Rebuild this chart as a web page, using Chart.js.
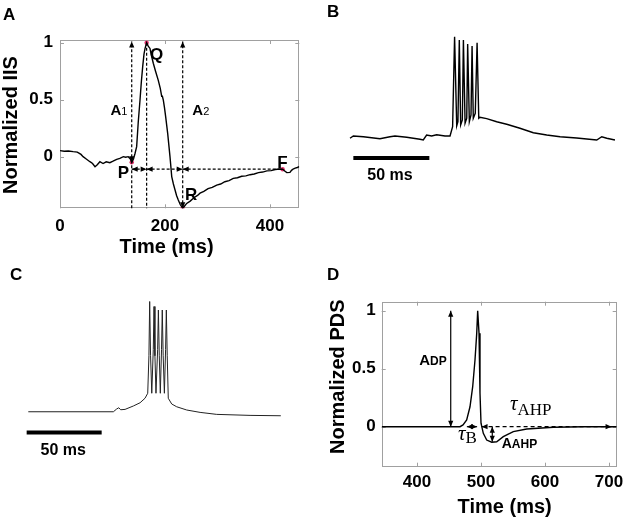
<!DOCTYPE html>
<html>
<head>
<meta charset="utf-8">
<script src="https://cdn.jsdelivr.net/npm/chart.js@4.4.1/dist/chart.umd.min.js"></script>
<style>
  body { margin: 0; background: #fff; width: 630px; height: 521px; position: relative; overflow: hidden;
         font-family: "Liberation Sans", Arial, sans-serif; }
  canvas { position: absolute; }
  .letter { position: absolute; font-weight: bold; font-size: 17px; line-height: 17px; color: #000; }
</style>
</head>
<body>
<canvas id="chartA" width="315" height="260" style="left:0;top:0"></canvas>
<canvas id="chartB" width="285" height="170" style="left:340px;top:20px"></canvas>
<canvas id="chartC" width="285" height="190" style="left:15px;top:280px"></canvas>
<canvas id="chartD" width="310" height="261" style="left:320px;top:260px"></canvas>
<div class="letter" style="left:3px;top:6px">A</div>
<div class="letter" style="left:327px;top:3px">B</div>
<div class="letter" style="left:10px;top:266px">C</div>
<div class="letter" style="left:327px;top:266px">D</div>
<script>
// Panel A: normalized interictal spike (IIS)
const iisTime = [0, 8, 16, 25, 33, 40, 44, 50, 57, 62, 66.7, 71, 76, 82, 88, 95, 101, 108, 114, 120.6, 125, 130, 134,
  136.6, 140, 143, 146, 149, 152.4, 155, 157.5, 160, 162, 165, 168, 171.4, 174, 177.7, 182, 187.2, 191, 193.7, 195,
  196.8, 199, 201.3, 205.1, 209.5, 212.8, 216, 219, 222, 225.3, 229, 233.7, 237, 241.3, 248, 255, 262, 266.7, 274,
  282, 290, 298.5, 306, 314, 322, 330, 338, 346, 354, 362, 370, 378, 386, 394, 402, 410, 418, 424, 428, 432, 438,
  441, 444, 448, 452, 455.8];
const iisValue = [0.053, 0.048, 0.05, 0.044, 0.04, 0.02, 0.0, -0.02, -0.044, -0.06, -0.088, -0.07, -0.044, -0.06,
  -0.045, -0.053, -0.04, -0.023, -0.015, 0, -0.005, 0.0, -0.02, -0.049, -0.02, 0.03, 0.088, 0.3, 0.497, 0.66, 0.79,
  0.9, 0.95, 1.0, 0.97, 0.95, 0.89, 0.82, 0.75, 0.67, 0.6, 0.53, 0.53, 0.497, 0.43, 0.35, 0.205, 0, -0.175, -0.24,
  -0.29, -0.34, -0.38, -0.42, -0.453, -0.435, -0.41, -0.39, -0.36, -0.34, -0.32, -0.305, -0.28, -0.27, -0.25,
  -0.24, -0.22, -0.21, -0.19, -0.185, -0.172, -0.168, -0.158, -0.152, -0.14, -0.135, -0.125, -0.122, -0.113,
  -0.108, -0.11, -0.125, -0.14, -0.138, -0.12, -0.108, -0.1, -0.095, -0.088];
const iisMarkTime = [136.6, 165, 233.7, 424];
const iisMarkValue = [-0.049, 1.0, -0.453, -0.11];
const iisTicksX = [0, 200, 400];
const iisTicksY = [0, 0.5, 1];

// Panel B: recorded burst (ms, mV)
const recTime = [0, 2.2, 8.8, 19.7, 26.3, 29.6, 37.3, 46, 48.2, 50.4, 53.7, 57, 62.5, 65.8, 67.5, 68.8, 70.2, 71,
  71.9, 72.8, 73.9, 74.6, 75.7, 76.8, 77.4, 78.5, 79.6, 80.3, 81.1, 82.4, 83.6, 84.7, 85.5, 89.9, 96.5, 103.1,
  111.8, 120.6, 129.4, 138.2, 149.1, 162.3, 165.6, 168.9, 174.3];
const recVoltage = [-63.6, -61.8, -62.4, -64, -62.4, -61.8, -62.8, -64.4, -65, -61, -61.8, -60.8, -61.8, -61.8,
  -54.4, 17.6, -53.8, -50.4, 15, -53, -49, 15, -51.6, -47.6, 11.8, -50.4, -45, 10.2, -47.6, -43.6, 12.8, -47.6,
  -46.8, -47.9, -50.4, -52.4, -55.6, -59.2, -61, -62.4, -63.4, -65, -62.4, -63.6, -65];

// Panel C: simulated burst (ms, mV)
const simTime = [0, 56.7, 58.9, 60.3, 61.6, 64.5, 70, 74.5, 77.8, 79.6, 80.4, 80.9, 81.5, 82.3, 83.3, 83.8, 84.4,
  85.1, 86.2, 86.7, 87.3, 88, 88.8, 89.3, 89.9, 90.7, 91.5, 92, 92.6, 93.3, 95.6, 98.9, 105.6, 114.5, 125.6, 147.8,
  168.3];
const simVoltage = [-64.8, -64.8, -62.6, -61.6, -63.2, -62.9, -60.2, -57.6, -54, -50, -20, 23.4, -20, -50, -15,
  19.4, -20, -50, -15, 16.6, -20, -50, -15, 16.6, -20, -50, -15, 16.6, -20, -54, -58.6, -60.8, -63.4, -65.3,
  -66.9, -67.7, -68];
const barTime = [0, 50];

// Panel D: normalized paroxysmal depolarizing shift (PDS)
const pdsTime = [345, 400, 450, 467.3, 472, 477.7, 482.9, 487.1, 490.7, 493.4, 494.9, 497, 498.5, 500.1, 503.7,
  509, 516.8, 524.6, 534.9, 550.5, 571.5, 613, 660, 712];
const pdsValue = [0, 0, 0, 0, 0.015, 0.058, 0.172, 0.345, 0.575, 0.805, 1.0, 0.805, 0.29, 0.03, -0.057, -0.115,
  -0.134, -0.13, -0.086, -0.043, -0.02, -0.005, 0, 0];
const pdsTicksX = [400, 500, 600, 700];
const pdsTicksY = [0, 0.5, 1];

const SANS = '"Liberation Sans", Arial, sans-serif';
const SERIF = '"Liberation Serif", "Times New Roman", serif';

function pts(xs, ys) { return xs.map((x, i) => ({ x: x, y: ys[i] })); }

// box, inner ticks, arrows, labels and axis titles drawn onto the chart
const figurePlugin = {
  id: 'figure',
  beforeDatasetsDraw(chart, args, opts) {
    if (!opts.box) return;
    const ctx = chart.ctx, a = chart.chartArea;
    const xs = chart.scales.x, ys = chart.scales.y;
    ctx.save();
    ctx.strokeStyle = '#a0a0a0';
    ctx.lineWidth = 1;
    ctx.strokeRect(Math.round(a.left) + 0.5, Math.round(a.top) + 0.5, Math.round(a.width) - 1, Math.round(a.height) - 1);
    ctx.beginPath();
    xs.ticks.forEach(t => {
      const px = Math.round(xs.getPixelForValue(t.value)) + 0.5;
      ctx.moveTo(px, a.bottom); ctx.lineTo(px, a.bottom - 4);
      ctx.moveTo(px, a.top); ctx.lineTo(px, a.top + 4);
    });
    ys.ticks.forEach(t => {
      const py = Math.round(ys.getPixelForValue(t.value)) + 0.5;
      ctx.moveTo(a.left, py); ctx.lineTo(a.left + 4, py);
      ctx.moveTo(a.right, py); ctx.lineTo(a.right - 4, py);
    });
    ctx.stroke();
    ctx.restore();
  },
  afterDatasetsDraw(chart, args, opts) {
    const ctx = chart.ctx, a = chart.chartArea;
    const X = v => chart.scales.x.getPixelForValue(v);
    const Y = v => chart.scales.y.getPixelForValue(v);
    ctx.save();
    (opts.arrows || []).forEach(ar => {
      const x1 = X(ar.from[0]), y1 = Y(ar.from[1]), x2 = X(ar.to[0]), y2 = Y(ar.to[1]);
      ctx.strokeStyle = '#000';
      ctx.fillStyle = '#000';
      ctx.lineWidth = 1.2;
      ctx.setLineDash(ar.dash || []);
      ctx.beginPath(); ctx.moveTo(x1, y1); ctx.lineTo(x2, y2); ctx.stroke();
      ctx.setLineDash([]);
      const head = (hx, hy, fx, fy) => {
        const ang = Math.atan2(hy - fy, hx - fx), L = 6, W = 2.6;
        ctx.beginPath();
        ctx.moveTo(hx, hy);
        ctx.lineTo(hx - L * Math.cos(ang) + W * Math.sin(ang), hy - L * Math.sin(ang) - W * Math.cos(ang));
        ctx.lineTo(hx - L * Math.cos(ang) - W * Math.sin(ang), hy - L * Math.sin(ang) + W * Math.cos(ang));
        ctx.closePath(); ctx.fill();
      };
      if (ar.heads === 'both' || ar.heads === 'end') head(x2, y2, x1, y1);
      if (ar.heads === 'both' || ar.heads === 'start') head(x1, y1, x2, y2);
    });
    (opts.labels || []).forEach(lb => {
      ctx.fillStyle = '#000';
      ctx.textBaseline = 'alphabetic';
      ctx.textAlign = 'left';
      let w = 0;
      lb.parts.forEach(p => { ctx.font = p.font; w += ctx.measureText(p.text).width; });
      let x = X(lb.at[0]);
      if (lb.align === 'center') x -= w / 2;
      if (lb.align === 'right') x -= w;
      const y = Y(lb.at[1]);
      lb.parts.forEach(p => {
        ctx.font = p.font;
        ctx.fillText(p.text, x, y + (p.dy || 0));
        x += ctx.measureText(p.text).width;
      });
    });
    if (opts.xTitle) {
      ctx.font = 'bold 20px ' + SANS;
      ctx.textAlign = 'center'; ctx.textBaseline = 'middle';
      ctx.fillText(opts.xTitle.text, X(opts.xTitle.at), a.bottom + opts.xTitle.gap);
    }
    if (opts.yTitle) {
      ctx.font = 'bold 20px ' + SANS;
      ctx.textAlign = 'center'; ctx.textBaseline = 'middle';
      ctx.translate(opts.yTitle.left, Y(opts.yTitle.at));
      ctx.rotate(-Math.PI / 2);
      ctx.fillText(opts.yTitle.text, 0, 0);
    }
    ctx.restore();
  }
};

function axis(min, max, tickValues, size, padding, horizontal) {
  return {
    type: 'linear', min: min, max: max,
    grid: { display: false, drawTicks: false }, border: { display: false },
    afterBuildTicks: s => { s.ticks = tickValues.map(v => ({ value: v })); },
    afterFit: s => { if (horizontal) s.height = size; else s.width = size; },
    ticks: { color: '#000', padding: padding, maxRotation: 0, autoSkip: false,
             callback: v => String(v),
             font: { family: SANS, size: 17, weight: 'bold' } }
  };
}

const traceStyle = { borderColor: '#000', borderWidth: 1.4, pointRadius: 0, tension: 0, fill: false };
const boldFont = s => 'bold ' + s + 'px ' + SANS;

new Chart(document.getElementById('chartA'), {
  type: 'line',
  data: {
    datasets: [
      Object.assign({ data: pts(iisTime, iisValue) }, traceStyle),
      { data: pts(iisMarkTime, iisMarkValue), showLine: false, pointRadius: 2.2,
        pointBackgroundColor: '#e3306b', pointBorderWidth: 0 }
    ]
  },
  options: {
    responsive: false, animation: false,
    layout: { padding: { top: 40, right: 15.7, left: 0, bottom: 0 } },
    scales: {
      x: axis(0, 455.8, iisTicksX, 51.7, 8, true),
      y: axis(-0.453, 1.024, iisTicksY, 60, 7, false)
    },
    plugins: {
      legend: { display: false }, tooltip: { enabled: false },
      figure: {
        box: true,
        arrows: [
          { from: [136.6, -0.049], to: [136.6, 1.01], dash: [3, 2], heads: 'both' },
          { from: [136.6, -0.453], to: [136.6, -0.049], dash: [3, 2] },
          { from: [165, 1.0], to: [165, -0.453], dash: [3, 2] },
          { from: [233.7, -0.453], to: [233.7, 1.01], dash: [3, 2], heads: 'both' },
          { from: [136.6, -0.11], to: [165, -0.11], dash: [3, 2], heads: 'both' },
          { from: [165, -0.11], to: [233.7, -0.11], dash: [3, 2], heads: 'both' },
          { from: [233.7, -0.11], to: [424, -0.11], dash: [3, 2], heads: 'start' }
        ],
        labels: [
          { at: [96, 0.366], parts: [{ text: 'A', font: boldFont(15) }, { text: '1', font: '11px ' + SANS }] },
          { at: [252, 0.366], parts: [{ text: 'A', font: boldFont(15) }, { text: '2', font: '11px ' + SANS }] },
          { at: [171.4, 0.848], parts: [{ text: 'Q', font: boldFont(17) }] },
          { at: [110, -0.187], parts: [{ text: 'P', font: boldFont(17) }] },
          { at: [238, -0.38], parts: [{ text: 'R', font: boldFont(17) }] },
          { at: [414, -0.099], parts: [{ text: 'F', font: boldFont(17) }] }
        ],
        xTitle: { text: 'Time (ms)', at: 203, gap: 38.7 },
        yTitle: { text: 'Normalized IIS', at: 0.278, left: 11 }
      }
    }
  },
  plugins: [figurePlugin]
});

new Chart(document.getElementById('chartB'), {
  type: 'line',
  data: {
    datasets: [
      Object.assign({ data: pts(recTime, recVoltage), clip: false }, traceStyle),
      { data: pts(barTime.map(t => t + 2.2), [-79.4, -79.4]), borderColor: '#000', borderWidth: 4, pointRadius: 0 }
    ]
  },
  options: {
    responsive: false, animation: false,
    scales: { x: { type: 'linear', display: false, min: -6.58, max: 180.9 },
              y: { display: false, min: -105, max: 31 } },
    plugins: {
      legend: { display: false }, tooltip: { enabled: false },
      figure: { labels: [{ at: [26.3, -97], align: 'center', parts: [{ text: '50 ms', font: boldFont(16) }] }] }
    }
  },
  plugins: [figurePlugin]
});

new Chart(document.getElementById('chartC'), {
  type: 'line',
  data: {
    datasets: [
      Object.assign({ data: pts(simTime, simVoltage), clip: false }, traceStyle, { borderWidth: 1, borderColor: '#222' }),
      { data: pts(barTime.map(t => t - 1.1), [-81.3, -81.3]), borderColor: '#000', borderWidth: 4, pointRadius: 0 }
    ]
  },
  options: {
    responsive: false, animation: false,
    scales: { x: { type: 'linear', display: false, min: -8.87, max: 181.1 },
              y: { display: false, min: -111.4, max: 40.6 } },
    plugins: {
      legend: { display: false }, tooltip: { enabled: false },
      figure: { labels: [{ at: [23.3, -99.4], align: 'center', parts: [{ text: '50 ms', font: boldFont(16) }] }] }
    }
  },
  plugins: [figurePlugin]
});

new Chart(document.getElementById('chartD'), {
  type: 'line',
  data: { datasets: [Object.assign({ data: pts(pdsTime, pdsValue) }, traceStyle)] },
  options: {
    responsive: false, animation: false,
    layout: { padding: { top: 41.7, right: 13.3, left: 0, bottom: 0 } },
    scales: {
      x: axis(345, 712, pdsTicksX, 54.3, 5, true),
      y: axis(-0.345, 1.078, pdsTicksY, 61.7, 6, false)
    },
    plugins: {
      legend: { display: false }, tooltip: { enabled: false },
      figure: {
        box: true,
        arrows: [
          { from: [452.8, 0], to: [452.8, 1.0], heads: 'both' },
          { from: [478, 0], to: [494, 0], heads: 'both' },
          { from: [501, 0], to: [704, 0], dash: [4, 3], heads: 'both' },
          { from: [517.7, 0], to: [517.7, -0.13], heads: 'both' }
        ],
        labels: [
          { at: [446.5, 0.532], align: 'right', parts: [{ text: 'A', font: boldFont(15) }, { text: 'DP', font: boldFont(12) }] },
          { at: [464.2, -0.115], parts: [{ text: 'τ', font: 'italic 21px ' + SERIF }, { text: 'B', font: '17px ' + SERIF, dy: 3 }] },
          { at: [545.4, 0.144], parts: [{ text: 'τ', font: 'italic 21px ' + SERIF }, { text: 'AHP', font: '17px ' + SERIF, dy: 5 }] },
          { at: [532.4, -0.184], parts: [{ text: 'A', font: boldFont(14) }, { text: 'AHP', font: boldFont(12) }] }
        ],
        xTitle: { text: 'Time (ms)', at: 537, gap: 40.3 },
        yTitle: { text: 'Normalized PDS', at: 0.431, left: 18 }
      }
    }
  },
  plugins: [figurePlugin]
});
</script>
</body>
</html>
